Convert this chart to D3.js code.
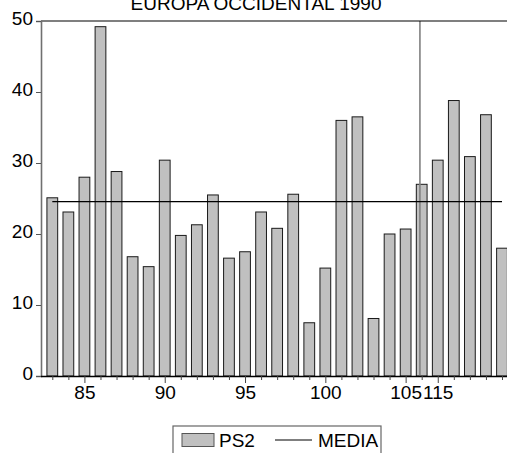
<!DOCTYPE html>
<html>
<head>
<meta charset="utf-8">
<script src="https://cdn.jsdelivr.net/npm/d3@7/dist/d3.min.js"></script>
<style>
  html, body { margin: 0; padding: 0; background: #fff; }
  svg { display: block; }
  text { font-family: Arial, "Liberation Sans", sans-serif; fill: #000; }
</style>
</head>
<body>
<svg id="chart" width="507" height="453"></svg>
<script>
// ---- Data ----
const title = "EUROPA OCCIDENTAL 1990";
const categories = ["83","84","85","86","87","88","89","90","91","92","93","94","95","96","97","98","99","100","101","102","103","104","105","114","115","116","117","118","119"];
const ps2 = [25.1,23.1,28.0,49.2,28.8,16.8,15.4,30.4,19.8,21.3,25.5,16.6,17.5,23.1,20.8,25.6,7.5,15.2,36.0,36.5,8.1,20.0,20.7,27.0,30.4,38.8,30.9,36.8,18.0];
const media = 24.55;
const labeledTicks = ["85","90","95","100","105","115"];
const yTicks = [0,10,20,30,40,50];
const breakAfter = "105";
const legendLabels = ["PS2","MEDIA"];

// ---- Layout ----
const svg = d3.select("#chart");
const mLeft = 41, mTop = 21, mBottom = 376, mRight = 513.3;

const x = d3.scalePoint().domain(categories).range([mLeft, mRight]).padding(0.7036);
const y = d3.scaleLinear().domain([0, 50]).range([mBottom, mTop]);
const step = x.step();
const barW = step * 0.67;

// Bars
svg.append("g").selectAll("rect")
  .data(categories.map((c, i) => ({c, v: ps2[i]})))
  .join("rect")
  .attr("x", d => x(d.c) - barW / 2)
  .attr("y", d => y(d.v))
  .attr("width", barW)
  .attr("height", d => y(0) - y(d.v))
  .attr("fill", "#c0c0c0")
  .attr("stroke", "#1a1a1a")
  .attr("stroke-width", 1);

// Break line
const nextCat = categories[categories.indexOf(breakAfter) + 1];
const bx = x(nextCat) - step * 0.11;
svg.append("line")
  .attr("x1", bx).attr("x2", bx)
  .attr("y1", mTop).attr("y2", mBottom)
  .attr("stroke", "#808080").attr("stroke-width", 1.6);

// Mean line
svg.append("line")
  .attr("x1", x(categories[0])).attr("x2", x(categories[categories.length - 1]))
  .attr("y1", y(media)).attr("y2", y(media))
  .attr("stroke", "#000").attr("stroke-width", 1.2);

// Frame: top line
svg.append("line")
  .attr("x1", mLeft).attr("x2", 507)
  .attr("y1", mTop).attr("y2", mTop)
  .attr("stroke", "#000").attr("stroke-width", 1.2);

// Y axis
const yAxis = d3.axisLeft(y).tickValues(yTicks).tickSize(5).tickPadding(3).tickFormat(d3.format("d"));
const gy = svg.append("g").attr("transform", `translate(${mLeft},0)`).call(yAxis);
gy.select(".domain").attr("stroke", "#707070").attr("stroke-width", 1.6);
gy.selectAll(".tick line").attr("stroke", "#555");
gy.selectAll(".tick text").attr("font-size", 19).attr("font-family", "Arial, 'Liberation Sans', sans-serif").attr("dy", "0.2em").attr("fill", "#000");

// X axis
const xAxis = d3.axisBottom(x).tickSize(4).tickFormat(d => labeledTicks.includes(d) ? d : "");
const gx = svg.append("g").attr("transform", `translate(0,${mBottom})`).call(xAxis);
gx.select(".domain").attr("d", `M${mLeft},0.5H507`).attr("stroke", "#000").attr("stroke-width", 1.4);
gx.selectAll(".tick line").attr("stroke", "#444")
  .attr("y2", d => labeledTicks.includes(d) ? 7 : 4);
gx.selectAll(".tick text").attr("font-size", 19).attr("font-family", "Arial, 'Liberation Sans', sans-serif").attr("y", 10).attr("dy", "0.71em").attr("fill", "#000");

// Title
svg.append("text")
  .attr("x", 256).attr("y", 9.5)
  .attr("text-anchor", "middle")
  .attr("font-size", 19)
  .text(title);

// Legend
const lg = svg.append("g");
lg.append("rect").attr("x", 173).attr("y", 426).attr("width", 208).attr("height", 40)
  .attr("fill", "#fff").attr("stroke", "#666").attr("stroke-width", 1.2);
lg.append("rect").attr("x", 182).attr("y", 433.5).attr("width", 32).attr("height", 13)
  .attr("fill", "#c0c0c0").attr("stroke", "#555").attr("stroke-width", 1);
lg.append("text").attr("x", 219).attr("y", 447).attr("font-size", 19).text(legendLabels[0]);
lg.append("line").attr("x1", 275).attr("x2", 312).attr("y1", 440).attr("y2", 440)
  .attr("stroke", "#000").attr("stroke-width", 1.2);
lg.append("text").attr("x", 318).attr("y", 447).attr("font-size", 19).text(legendLabels[1]);
</script>
</body>
</html>
